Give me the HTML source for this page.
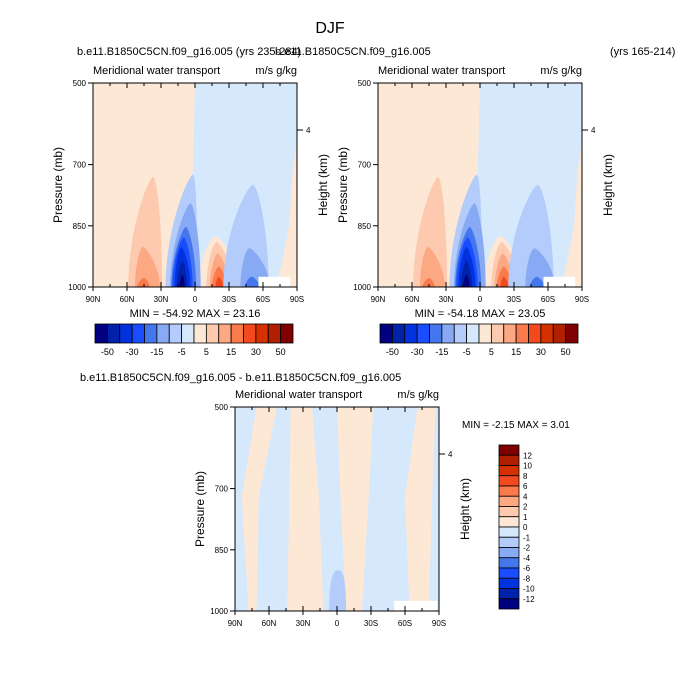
<!DOCTYPE html>
<html><head><meta charset="utf-8"><style>
body{margin:0;background:#fff;}
svg{display:block;font-family:"Liberation Sans",sans-serif;}
</style></head><body>
<svg id="s" width="680" height="698" viewBox="0 0 680 698"></svg>
<script>
// ---- data ----
const bandColors=["#000080","#0022aa","#0033dd","#1a4dff","#4477ee","#88aaf5","#b4ccfb","#d6e8fc","#fde8d6","#fdcab0","#fca882","#fb7a4b","#f24a1e","#d43000","#b01f00","#7f0000"];
const mainLevels=[-50,-40,-30,-20,-15,-10,-5,0,5,10,15,20,30,40,50];
const diffLevels=[-12,-10,-8,-6,-4,-2,-1,0,1,2,4,6,8,10,12];
const xTickLabels=["90N","60N","30N","0","30S","60S","90S"];
const xTickLats=[90,60,30,0,-30,-60,-90];
const yTickValues=[500,700,850,1000];
// background boundary (orange left, blue right): [lat, pressure]
const bgBoundary=[[0,500],[2,720],[12,800],[22,880],[27,1000]];
// mounds: [band, latNorth, latSouth, peakLat, topPressure]
const moundsLeft=[
 [8,-3,-38,-18,875],
 [9,59,29,37,730],[10,53,31,46,902],[11,51,40,45,978],
 [6,26,-2,2,725],[5,22,-5,4,795],[4,21,-1,8,853],[3,20,2,10,878],[2,18,4,12,902],[1,16,7,11,935],[0,14,9,11,970],
 [9,-10,-34,-19,890],[10,-13,-30,-20,918],[11,-15,-28,-21,950],[12,-18,-25,-21,975],
 [6,-25,-65,-51,750],[5,-40,-66,-48,905],[4,-44,-57,-50,975]
];
const moundsRight=[
 [8,-3,-38,-18,875],
 [9,59,29,37,730],[10,53,31,46,902],[11,51,40,45,978],
 [6,27,-2,3,725],[5,23,-5,5,795],[4,22,-1,9,853],[3,21,2,11,878],[2,19,4,12,902],[1,17,7,12,935],[0,15,9,12,970],
 [9,-10,-34,-19,890],[10,-13,-30,-20,918],[11,-15,-28,-21,950],[12,-18,-25,-21,975],
 [6,-25,-65,-51,750],[5,-40,-66,-48,905],[4,-44,-57,-50,975]
];
// right-edge orange: [lat,p]
const edgeOrange=[[-90,640],[-86,720],[-83,850],[-76,950],[-71,1000],[-90,1000]];
// missing (white) region: [latN, latS, pTop]
const missing=[-56,-84,975];
// diff stripes (blue on orange): [latTopN, latTopS, latMidN, latMidS, latBotN, latBotS]
const diffStripes=[[90,71,90,84,90,78],[53,41,69,42,71,44],[22,0,16,-3,12,-8],[-32,-71,-28,-60,-22,-64],[-87,-90,-84,-90,-81,-90]];
const diffBlob=[7,-8,-1,900];
const diffMissing=[-50.5,-88.5,975];

const NS="http://www.w3.org/2000/svg";
const svg=document.getElementById('s');
function mk(tag,attrs,parent){const e=document.createElementNS(NS,tag);for(const k in attrs)e.setAttribute(k,attrs[k]);(parent||svg).appendChild(e);return e;}
function txt(x,y,s,size,anchor,parent,rot,name){const t=mk('text',{x:x,y:y,'font-size':size,'text-anchor':anchor||'start',fill:'#000'},parent);if(rot)t.setAttribute('transform','rotate(-90 '+x+' '+y+')');t.textContent=s;

return t;}

function panel(x0,y0,w,h,mounds,isDiff,name){
 const g=mk('g',{});
 
 
 const X=lat=>x0+(90-lat)/180*w;
 const Y=p=>y0+(p-500)/500*h;
 const clipId='c'+name;
 const cp=mk('clipPath',{id:clipId},g);mk('rect',{x:x0,y:y0,width:w,height:h},cp);
 const pg=mk('g',{'clip-path':'url(#'+clipId+')'},g);
 if(!isDiff){
  mk('rect',{x:x0,y:y0,width:w,height:h,fill:bandColors[7]},pg);
  let d='M'+X(90)+' '+Y(500);bgBoundary.forEach(b=>d+=' L'+X(b[0])+' '+Y(b[1]));d+=' L'+X(90)+' '+Y(1000)+'Z';
  const bp=mk('path',{d:d,fill:bandColors[8]},pg);
  
  
  let e='M';edgeOrange.forEach((b,i)=>e+=(i?' L':'')+X(b[0])+' '+Y(b[1]));
  mk('path',{d:e+'Z',fill:bandColors[8]},pg);
  mounds.forEach(m=>{
   const xa=X(m[1]),xb=X(m[2]),xp=X(m[3]),yt=Y(m[4]),yb=Y(1000)+1;const wd=xb-xa,hh=yb-yt;
   const d='M'+xa+' '+yb+' C'+xa+' '+(yt+hh*0.45)+' '+(xp-wd*0.12)+' '+yt+' '+xp+' '+yt+' C'+(xp+wd*0.12)+' '+yt+' '+xb+' '+(yt+hh*0.45)+' '+xb+' '+yb+'Z';
   const p=mk('path',{d:d,fill:bandColors[m[0]]},pg);
   
   
  });
  mk('rect',{x:X(missing[0]),y:Y(missing[2]),width:X(missing[1])-X(missing[0]),height:Y(1000)-Y(missing[2]),fill:'#fff'},pg);
 } else {
  mk('rect',{x:x0,y:y0,width:w,height:h,fill:bandColors[8]},pg);
  diffStripes.forEach(s=>{
   const p=mk('path',{d:'M'+X(s[0])+' '+Y(500)+' L'+X(s[1])+' '+Y(500)+' L'+X(s[3])+' '+Y(720)+' L'+X(s[5])+' '+Y(1000)+' L'+X(s[4])+' '+Y(1000)+' L'+X(s[2])+' '+Y(720)+'Z',fill:bandColors[7]},pg);
   
   
  });
  const m=diffBlob;const xa=X(m[0]),xb=X(m[1]),xp=X(m[2]),yt=Y(m[3]),yb=Y(1000)+1;const wd=xb-xa,hh=yb-yt;
  mk('path',{d:'M'+xa+' '+yb+' C'+xa+' '+(yt+hh*0.2)+' '+(xp-wd*0.3)+' '+yt+' '+xp+' '+yt+' C'+(xp+wd*0.3)+' '+yt+' '+xb+' '+(yt+hh*0.2)+' '+xb+' '+yb+'Z',fill:bandColors[6]},pg);
  mk('rect',{x:X(diffMissing[0]),y:Y(diffMissing[2]),width:X(diffMissing[1])-X(diffMissing[0]),height:Y(1000)-Y(diffMissing[2]),fill:'#fff'},pg);
 }
 mk('rect',{x:x0,y:y0,width:w,height:h,fill:'none',stroke:'#000','stroke-width':1},g);
 for(let lat=90;lat>=-90;lat-=15){const major=lat%30===0;const xx=X(lat);const L=major?5:3;
  mk('line',{x1:xx,y1:y0,x2:xx,y2:y0+L,stroke:'#000','stroke-width':1},g);
  mk('line',{x1:xx,y1:y0+h,x2:xx,y2:y0+h-L,stroke:'#000','stroke-width':1},g);}
 xTickLats.forEach((lat,i)=>{mk('line',{x1:X(lat),y1:y0+h,x2:X(lat),y2:y0+h+4,stroke:'#000'},g);txt(X(lat),y0+h+15,xTickLabels[i],8,'middle',g,false,'x-tick-label');});
 yTickValues.forEach(v=>{mk('line',{x1:x0-5,y1:Y(v),x2:x0,y2:Y(v),stroke:'#000'},g);txt(x0-7,Y(v)+3,String(v),8,'end',g,false,'y-tick-label');});
 mk('line',{x1:x0+w,y1:y0+47,x2:x0+w+6,y2:y0+47,stroke:'#000'},g);txt(x0+w+9,y0+50,'4',8,'start',g,false,'height-tick-label');
 txt(x0,y0-9,'Meridional water transport',11,'start',g,false,'left-string');
 txt(x0+w,y0-9,'m/s g/kg',11,'end',g,false,'units-string');
 txt(x0-31,y0+h/2,'Pressure (mb)',12,'middle',g,true,'y-axis-title');
 txt(x0+w+30,y0+h/2,'Height (km)',12,'middle',g,true,'right-axis-title');
 return {X,Y};
}
function hbar(x0,y0,w,h){
 const g=mk('g',{});
 
 
 const bw=w/bandColors.length;
 bandColors.forEach((c,i)=>mk('rect',{x:x0+i*bw,y:y0,width:bw,height:h,fill:c,stroke:'#000','stroke-width':0.8},g));
 mainLevels.forEach((v,i)=>{if(i%2===0)txt(x0+(i+1)*bw,y0+h+12,String(v),9,'middle',g,false,'colorbar-label');});
}
txt(330,33,'DJF',16,'middle',null,false,'main-title');
txt(77,55,'b.e11.B1850C5CN.f09_g16.005 (yrs 235-284)',11,'start',null,false,'left-panel-title');
txt(275,55,'b.e11.B1850C5CN.f09_g16.005',11,'start',null,false,'right-panel-title');
txt(610,55,'(yrs 165-214)',11,'start',null,false,'right-panel-years');
panel(93,83,204,204,moundsLeft,false,'panel-case1');
panel(378,83,204,204,moundsRight,false,'panel-case2');
txt(195,317,'MIN = -54.92  MAX =  23.16',11,'middle',null,false,'minmax-case1');
txt(480,317,'MIN = -54.18  MAX =  23.05',11,'middle',null,false,'minmax-case2');
hbar(95,324,198,19);
hbar(380,324,198,19);
txt(80,381,'b.e11.B1850C5CN.f09_g16.005 - b.e11.B1850C5CN.f09_g16.005',11,'start',null,false,'diff-panel-title');
panel(235,407,204,204,null,true,'panel-diff');
txt(462,428,'MIN =  -2.15  MAX =   3.01',10,'start',null,false,'minmax-diff');
(function(){const g=mk('g',{});
 
 
 const x0=499,y0=445,w=20,H=164,n=bandColors.length,bh=H/n;
 for(let i=0;i<n;i++)mk('rect',{x:x0,y:y0+i*bh,width:w,height:bh,fill:bandColors[n-1-i],stroke:'#000','stroke-width':0.8},g);
 for(let i=0;i<diffLevels.length;i++){const v=diffLevels[diffLevels.length-1-i];txt(x0+w+4,y0+(i+1)*bh+3,String(v),8,'start',g,false,'diff-colorbar-label');}
})();
</script>
</body></html>
